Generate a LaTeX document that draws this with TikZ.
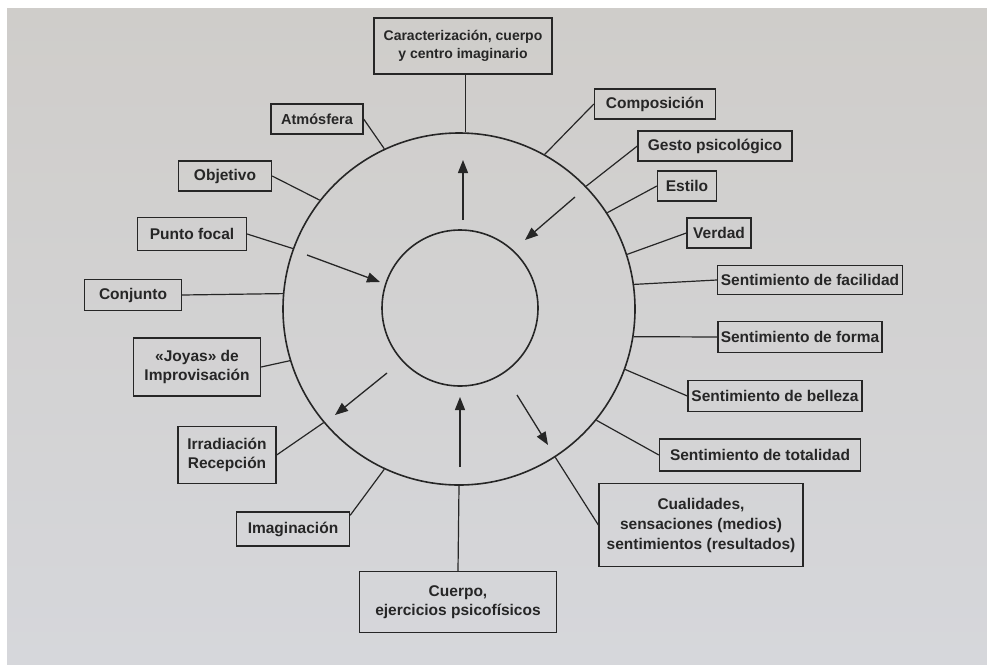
\documentclass[tikz,border=0pt]{standalone}
\usepackage{fontspec}
\setmainfont{Liberation Sans}
\usetikzlibrary{arrows.meta}
\definecolor{ink}{HTML}{262626}
\definecolor{paperT}{HTML}{CFCDCA}
\definecolor{paperB}{HTML}{D6D7DB}
\tikzset{
  lbox/.style={draw=ink, line width=1.3pt, align=center, inner sep=1.5pt, text=ink,
    font=\bfseries\fontsize{15.5}{18.5}\selectfont},
  conn/.style={draw=ink, line width=1.2pt},
  ring/.style={circle, draw=ink, line width=1.6pt, inner sep=0pt},
  flow/.style={draw=ink, line width=1.3pt, -{Triangle[length=13pt,width=10pt]}}
}
\begin{document}
\begin{tikzpicture}[x=1pt,y=-1pt]
\useasboundingbox (0,0) rectangle (987,664);
\fill[white] (0,0) rectangle (987,664);
\shade[top color=paperT, bottom color=paperB] (7,8) rectangle (987,664);

% circles
\node[ring, minimum size=352pt] (outer) at (459,309) {};
\node[ring, minimum size=156pt] (inner) at (460,308) {};

% boxes
\node[lbox, minimum width=178pt, minimum height=56pt, font=\bfseries\fontsize{14}{17.5}\selectfont] (car) at (463,46) {Caracterización, cuerpo\\y centro imaginario};
\node[lbox, minimum width=92pt, minimum height=30pt, font=\bfseries\fontsize{14.5}{18}\selectfont] (atm) at (317,119) {Atmósfera};
\node[lbox, minimum width=93pt, minimum height=30pt] (obj) at (225,176) {Objetivo};
\node[lbox, minimum width=109pt, minimum height=33pt] (pf) at (192,234) {Punto focal};
\node[lbox, minimum width=97pt, minimum height=31pt] (conj) at (133,295) {Conjunto};
\node[lbox, minimum width=127pt, minimum height=58pt] (joy) at (197,367) {«Joyas» de\\Improvisación};
\node[lbox, minimum width=98pt, minimum height=57pt] (irr) at (227,455) {Irradiación\\Recepción};
\node[lbox, minimum width=113pt, minimum height=34pt] (imag) at (293,529) {Imaginación};
\node[lbox, minimum width=197pt, minimum height=61pt] (cuer) at (458,602) {Cuerpo,\\ejercicios psicofísicos};
\node[lbox, minimum width=204pt, minimum height=83pt, font=\bfseries\fontsize{15.5}{20}\selectfont] (cual) at (701,525) {Cualidades,\\sensaciones (medios)\\sentimientos (resultados)};
\node[lbox, minimum width=201pt, minimum height=32pt] (tot) at (760,455) {Sentimiento de totalidad};
\node[lbox, minimum width=174pt, minimum height=31pt] (bel) at (775,396) {Sentimiento de belleza};
\node[lbox, minimum width=164pt, minimum height=31pt] (forma) at (800,337) {Sentimiento de forma};
\node[lbox, minimum width=185pt, minimum height=29pt] (fac) at (810,280) {Sentimiento de facilidad};
\node[lbox, minimum width=64pt, minimum height=30pt] (ver) at (719,233) {Verdad};
\node[lbox, minimum width=59pt, minimum height=30pt] (est) at (687,186) {Estilo};
\node[lbox, minimum width=154pt, minimum height=30pt] (gesto) at (715,146) {Gesto psicológico};
\node[lbox, minimum width=121pt, minimum height=30pt] (comp) at (655,104) {Composición};

% connectors
\draw[conn] (outer.88) -- (outer.88 |- car.south);
\draw[conn] (atm.east) -- (outer.115.5);
\draw[conn] (obj.east) -- (outer.142.5);
\draw[conn] (pf.east) -- (outer.160.5);
\draw[conn] (conj.east) -- (outer.175);
\draw[conn] (joy.east) -- (outer.197);
\draw[conn] (irr.east) -- (outer.220.7);
\draw[conn] (imag.north east) ++(0,4) -- (outer.245.3);
\draw[conn] (cuer.north) -- (outer.270);
\draw[conn] (cual.west) -- (outer.303.9);
\draw[conn] (tot.west) -- (outer.321.9);
\draw[conn] (bel.west) -- (outer.340);
\draw[conn] (forma.west) -- (outer.351.9);
\draw[conn] (fac.west) -- (outer.8.5);
\draw[conn] (ver.west) -- (outer.18.3);
\draw[conn] (est.west) -- (outer.33.2);
\draw[conn] (gesto.west) -- (outer.44.5);
\draw[conn] (comp.west) -- (outer.61.7);

% flow arrows
\coordinate (a1s) at (463,220); \coordinate (a1e) at (463,160);
\coordinate (a2s) at (575,197); \coordinate (a2e) at (525,240);
\coordinate (a3s) at (307,255); \coordinate (a3e) at (380,282);
\coordinate (a4s) at (387,373); \coordinate (a4e) at (335,415);
\coordinate (a5s) at (460,467); \coordinate (a5e) at (460,397);
\coordinate (a6s) at (517,395); \coordinate (a6e) at (548,445);
\draw[flow] (a1s) -- (a1e);
\draw[flow] (a2s) -- (a2e);
\draw[flow] (a3s) -- (a3e);
\draw[flow] (a4s) -- (a4e);
\draw[flow] (a5s) -- (a5e);
\draw[flow] (a6s) -- (a6e);
\end{tikzpicture}
\end{document}
